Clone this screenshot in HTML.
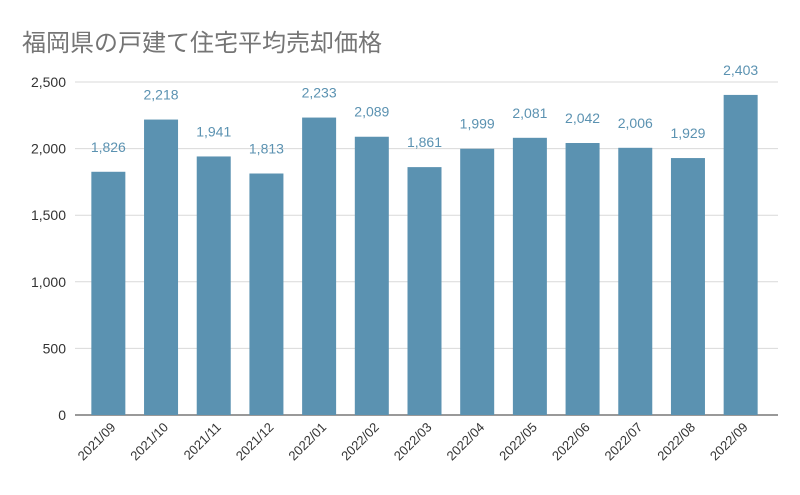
<!DOCTYPE html>
<html><head><meta charset="utf-8"><style>
body{margin:0;background:#fff;}
svg{display:block;font-family:"Liberation Sans","Noto Sans CJK JP",sans-serif;}
</style></head><body>
<svg id="chart" width="800" height="495" viewBox="0 0 800 495">
<text x="22" y="51" font-size="24" fill="#757575">福岡県の戸建て住宅平均売却価格</text>
<g id="grid"></g><g id="bars"></g><g id="labels"></g>
</svg>
<script>
const categories=["2021/09","2021/10","2021/11","2021/12","2022/01","2022/02","2022/03","2022/04","2022/05","2022/06","2022/07","2022/08","2022/09"];
const values=[1826,2218,1941,1813,2233,2089,1861,1999,2081,2042,2006,1929,2403];
const yTicks=[0,500,1000,1500,2000,2500];
const yTickLabels=["0","500","1,000","1,500","2,000","2,500"];
const NS="http://www.w3.org/2000/svg";
const x0=82,x1=767,yBase=415,yTop=82,yMax=2500;
const y=v=>yBase-(v/yMax)*(yBase-yTop);
const step=(x1-x0)/categories.length;
const xc=i=>x0+step*(i+0.5);
const bw=34;
function mk(t,a,p){const e=document.createElementNS(NS,t);for(const k in a)e.setAttribute(k,a[k]);p.appendChild(e);return e;}
const grid=document.getElementById('grid'),bars=document.getElementById('bars'),labels=document.getElementById('labels');
yTicks.forEach((v,i)=>{
 const l=mk('line',{x1:75,x2:778,y1:y(v),y2:y(v),stroke:v===0?'#333':'#d9d9d9','stroke-width':1},grid);
 
 
 const t=mk('text',{x:66,y:y(v)+5,'text-anchor':'end','font-size':14,fill:'#333'},grid);
 t.textContent=yTickLabels[i];
 
 
});
values.forEach((v,i)=>{
 const r=mk('rect',{x:xc(i)-bw/2,y:y(v),width:bw,height:yBase-y(v),fill:'#5b92b1'},bars);
 
 
 const t=mk('text',{x:xc(i),y:y(v)-20,'text-anchor':'middle','font-size':14,fill:'#5b92b1'},labels);
 t.textContent=v.toLocaleString('en-US');
 
 
 const c=mk('text',{x:xc(i)+8,y:428,'text-anchor':'end','font-size':13,fill:'#333',transform:`rotate(-45 ${xc(i)+8} 428)`},labels);
 c.textContent=categories[i];
 
 
});
</script>
</body></html>
